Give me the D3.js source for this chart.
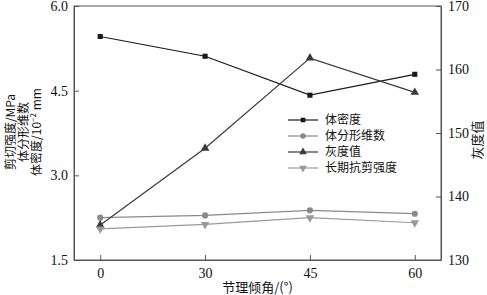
<!DOCTYPE html>
<html lang="zh">
<head>
<meta charset="UTF-8">
<script src="https://d3js.org/d3.v7.min.js"></script>
<style>
  body { margin: 0; background: #fff; }
  svg text { font-family: "Liberation Serif", "Noto Sans CJK SC", serif; fill: #111; }
  .cjk { font-family: "Noto Sans CJK SC", sans-serif; }
</style>
</head>
<body>
<div id="chart"></div>
<script>
// data
const angles = ["0", "30", "45", "60"];
const density = [5.46, 5.11, 4.42, 4.79];       // 体密度 (left axis)
const fractal = [2.25, 2.29, 2.38, 2.32];       // 体分形维数 (left axis)
const gray = [135.5, 147.6, 161.8, 156.4];      // 灰度值 (right axis)
const shear = [2.05, 2.13, 2.25, 2.16];         // 长期抗剪强度 (left axis)
const leftTicks = [1.5, 3.0, 4.5, 6.0];
const rightTicks = [130, 140, 150, 160, 170];

const width = 487, height = 295;
const margin = { top: 6, right: 46, bottom: 35, left: 74 };
const iw = width - margin.left - margin.right;
const ih = height - margin.top - margin.bottom;

const svg = d3.select("#chart").append("svg")
    .attr("width", width).attr("height", height);
const g = svg.append("g").attr("transform", `translate(${margin.left},${margin.top})`);

const x = d3.scalePoint().domain(angles).range([0, iw]).padding(0.25);
const yL = d3.scaleLinear().domain([1.5, 6.0]).range([ih, 0]);
const yR = d3.scaleLinear().domain([130, 170]).range([ih, 0]);

// frame
g.append("rect").attr("width", iw).attr("height", ih)
    .attr("fill", "none").attr("stroke", "#555").attr("stroke-width", 1);

// axes
const axStyle = sel => {
    sel.select(".domain").attr("stroke", "#555");
    sel.selectAll(".tick line").attr("stroke", "#555");
    sel.selectAll(".tick text").attr("font-size", 14).attr("fill", "#111")
        .attr("font-family", "Liberation Serif, serif");
};
g.append("g").attr("transform", `translate(0,${ih})`)
    .call(d3.axisBottom(x).tickSizeInner(-5).tickSizeOuter(0).tickPadding(8))
    .call(axStyle);
g.append("g")
    .call(d3.axisLeft(yL).tickValues(leftTicks).tickFormat(d3.format(".1f"))
        .tickSizeInner(-5).tickSizeOuter(0).tickPadding(6))
    .call(axStyle);
g.append("g").attr("transform", `translate(${iw},0)`)
    .call(d3.axisRight(yR).tickValues(rightTicks).tickSizeInner(-5).tickSizeOuter(0).tickPadding(7))
    .call(axStyle);

// series
const series = [
    { name: "体密度", vals: density, y: yL, color: "#1a1a1a", sym: d3.symbolSquare, size: 26, rot: 0 },
    { name: "体分形维数", vals: fractal, y: yL, color: "#8a8a8a", sym: d3.symbolCircle, size: 30, rot: 0 },
    { name: "灰度值", vals: gray, y: yR, color: "#3a3a3a", sym: d3.symbolTriangle, size: 32, rot: 0 },
    { name: "长期抗剪强度", vals: shear, y: yL, color: "#9a9a9a", sym: d3.symbolTriangle, size: 32, rot: 180 }
];

series.forEach(s => {
    const pts = s.vals.map((v, i) => [x(angles[i]), s.y(v)]);
    g.append("path").datum(pts)
        .attr("fill", "none").attr("stroke", s.color).attr("stroke-width", 1.2)
        .attr("d", d3.line());
    g.selectAll(null).data(pts).join("path")
        .attr("transform", d => `translate(${d[0]},${d[1]}) rotate(${s.rot})`)
        .attr("d", d3.symbol().type(s.sym).size(s.size))
        .attr("fill", s.color);
});

// legend
const lg = g.append("g").attr("transform", `translate(${288 - margin.left},${120 - margin.top})`);
series.forEach((s, i) => {
    const row = lg.append("g").attr("transform", `translate(0,${i * 16})`);
    row.append("line").attr("x1", 0).attr("x2", 30)
        .attr("stroke", s.color).attr("stroke-width", 1.2);
    row.append("path").attr("transform", `translate(15,0) rotate(${s.rot})`)
        .attr("d", d3.symbol().type(s.sym).size(s.size * 0.8)).attr("fill", s.color);
    row.append("text").attr("class", "cjk").attr("x", 37).attr("dy", "0.35em")
        .attr("font-size", 12).text(s.name);
});

// axis titles
svg.append("text").attr("class", "cjk").attr("font-size", 13)
    .attr("text-anchor", "middle")
    .attr("transform", `translate(${margin.left + iw / 2},${height - 3})`)
    .text("节理倾角/(°)");

const lt = svg.append("text").attr("class", "cjk").attr("font-size", 12)
    .attr("text-anchor", "middle")
    .attr("transform", `translate(15,132) rotate(-90)`);
lt.append("tspan").attr("x", 0).attr("y", 0).text("剪切强度/MPa");
lt.append("tspan").attr("x", 0).attr("y", 13).text("体分形维数");
lt.append("tspan").attr("x", 0).attr("y", 26).text("体密度/10");
lt.append("tspan").attr("dy", -5).attr("font-size", 8).text("−2");
lt.append("tspan").attr("dy", 5).text(" mm");

svg.append("text").attr("class", "cjk").attr("font-size", 13)
    .attr("text-anchor", "middle").attr("dy", "0.35em")
    .attr("transform", `translate(477,140) rotate(-90)`)
    .text("灰度值");
</script>
</body>
</html>
